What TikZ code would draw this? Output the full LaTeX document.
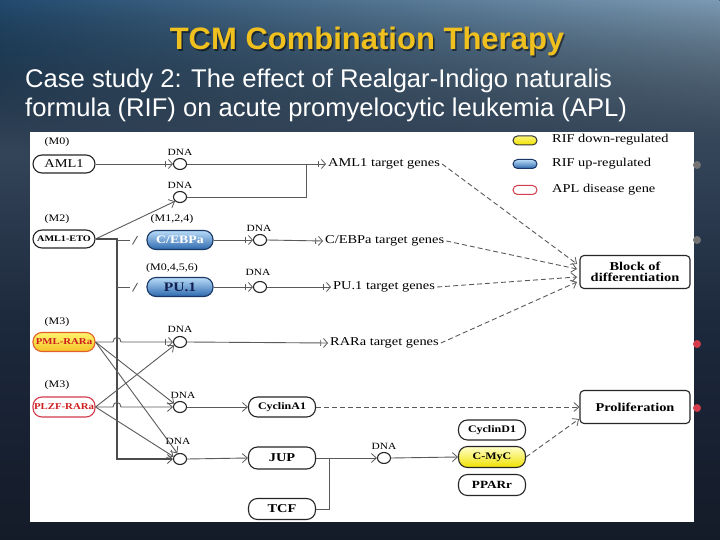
\documentclass[tikz,border=0pt]{standalone}
\usepackage{fontspec}
\setmainfont{Liberation Sans}
\newfontfamily\dfont[FakeStretch=1.2]{Liberation Serif}
\usetikzlibrary{arrows.meta,shapes.geometric,fadings}
\definecolor{bg0}{RGB}{10,10,14}
\definecolor{bg1}{RGB}{16,20,30}
\definecolor{bg2}{RGB}{28,40,60}
\definecolor{bg3}{RGB}{72,92,114}
\definecolor{bg4}{RGB}{88,116,140}
\definecolor{bg5}{RGB}{70,108,138}
\definecolor{bgTL}{RGB}{35,75,110}
\definecolor{bgTR}{RGB}{125,155,180}
\definecolor{ttl}{RGB}{240,192,30}
\definecolor{blueT}{RGB}{185,220,248}
\definecolor{blueB}{RGB}{45,105,175}
\definecolor{blueD}{RGB}{25,55,100}
\definecolor{navyT}{RGB}{16,32,80}
\definecolor{yelT}{RGB}{255,255,200}
\definecolor{yelB}{RGB}{240,225,0}
\definecolor{pmlT}{RGB}{255,245,110}
\definecolor{pmlB}{RGB}{245,195,40}
\definecolor{pmlD}{RGB}{225,95,40}
\definecolor{aplR}{RGB}{210,60,75}
\definecolor{txR}{RGB}{205,30,30}
\definecolor{lnG}{RGB}{90,90,90}
\tikzfading[name=fadedown, top color=transparent!0, bottom color=transparent!100]
\pgfdeclareverticalshading{slidebg}{100bp}{color(0bp)=(bg0); color(15bp)=(bg1); color(45bp)=(bg2); color(75bp)=(bg3); color(88bp)=(bg4); color(100bp)=(bg5)}
\newcommand{\fsz}[1]{\fontsize{#1}{#1}\selectfont}
\begin{document}
\begin{tikzpicture}[x=1pt,y=-1pt,
  pill/.style={draw=black!85, line width=1.1pt, rounded corners=9pt, fill=white,
    minimum width=66pt, minimum height=20pt, inner sep=0pt, font=\dfont\bfseries\fsz{10}},
  bluepill/.style={top color=blueT, bottom color=blueB, draw=blueD},
  yelpill/.style={top color=yelT, bottom color=yelB, draw=black!85},
  pmlpill/.style={top color=pmlT, bottom color=pmlB, draw=pmlD, text=txR},
  aplpill/.style={fill=white, draw=aplR, text=txR},
  legpill/.style={line width=1pt, rounded corners=4.5pt, minimum width=24pt, minimum height=9pt, inner sep=0pt},
  outbox/.style={draw=black!85, line width=1.1pt, rounded corners=4pt, fill=white,
    minimum width=110pt, minimum height=33pt, inner sep=0pt, align=center, font=\dfont\bfseries\fsz{12}},
  dnac/.style={draw=black!85, line width=1.1pt, ellipse, fill=white, minimum width=13pt, minimum height=11pt, inner sep=0pt},
  lbl/.style={inner sep=0pt, font=\dfont\fsz{10}},
  dnal/.style={inner sep=0pt, font=\dfont\fsz{9.5}},
  tgt/.style={inner sep=2pt, anchor=west, font=\dfont\fsz{12}},
  conn/.style={draw=lnG, line width=0.9pt},
  oa/.style={-{Straight Barb[length=5pt,width=9pt,line width=0.8pt]}},
  ba/.style={-{Bar[width=6pt,line width=0.8pt,sep=2pt]Straight Barb[length=4pt,width=9pt,line width=0.8pt]}},
  dsh/.style={draw=lnG, line width=0.9pt, dash pattern=on 5pt off 3pt}
]
\useasboundingbox (0,0) rectangle (720,540);
% slide background
\shade[shading=slidebg] (0,0) rectangle (720,540);
\fill[left color=bgTL, right color=bgTR, path fading=fadedown] (0,0) rectangle (720,150);
% titles
\node[anchor=base, text=black, opacity=0.5, font=\bfseries\fsz{31}] at (368.5,51.5) {TCM Combination Therapy};
\node[anchor=base, text=ttl, font=\bfseries\fsz{31}] (title) at (367,50) {TCM Combination Therapy};
\node[anchor=base west, text=white, inner sep=0pt, font=\fsz{25.6}] (sub1) at (25,88) {Case study 2: The effect of Realgar-Indigo naturalis};
\node[anchor=base west, text=white, inner sep=0pt, font=\fsz{25.6}] (sub2) at (25,117) {formula (RIF) on acute promyelocytic leukemia (APL)};
% white panel
\fill[white] (30,132) rectangle (694,522);
\fill[black!55] (697,165) circle (4);
\fill[black!55] (697,240) circle (4);
\fill[aplR] (697,344) circle (4);
\fill[aplR] (697,408) circle (4);
% legend
\node[legpill, top color=yelT!60!yelB, bottom color=yelB, draw=black!80] (ly) at (525,140.5) {};
\node[legpill, top color=blueT, bottom color=blueB, draw=blueD] (lb) at (525,164) {};
\node[legpill, fill=white, draw=aplR] (lr) at (525,190) {};
\node[lbl, anchor=west, font=\dfont\fsz{12}] (lyt) at (552,140) {RIF down-regulated};
\node[lbl, anchor=west, font=\dfont\fsz{12}] (lbt) at (552,164) {RIF up-regulated};
\node[lbl, anchor=west, font=\dfont\fsz{12}] (lrt) at (552,190) {APL disease gene};
% left column
\node[lbl] (m0) at (57,142) {(M0)};
\node[pill, minimum width=62pt, minimum height=18pt, font=\dfont\fsz{12}] (aml1) at (64,164) {AML1};
\node[lbl] (m2) at (57,219) {(M2)};
\node[pill, minimum width=62pt, minimum height=18pt, font=\dfont\bfseries\fsz{8.5}] (eto) at (64,239) {AML1-ETO};
\node[lbl] (m3a) at (57,322) {(M3)};
\node[pill, pmlpill, minimum width=62pt, minimum height=19pt, font=\dfont\bfseries\fsz{9}] (pml) at (64,342) {PML-RARa};
\node[lbl] (m3b) at (57,385) {(M3)};
\node[pill, aplpill, minimum width=62pt, minimum height=20pt, font=\dfont\bfseries\fsz{9}] (plzf) at (64,407) {PLZF-RARa};
% blue nodes
\node[lbl] (m124) at (172,219) {(M1,2,4)};
\node[pill, bluepill, minimum width=66pt, minimum height=19pt, font=\dfont\bfseries\fsz{11.5}, text=white] (cebpa) at (180,240) {C/EBPa};
\node[lbl] (m0456) at (172,268) {(M0,4,5,6)};
\node[pill, bluepill, minimum width=66pt, minimum height=19pt, font=\dfont\bfseries\fsz{13}, text=navyT] (pu1) at (180,287) {PU.1};
% DNA sites
\node[dnac] (dna1) at (180,164) {};
\node[dnal] (dl1) at (180,152) {DNA};
\node[dnac] (dna2) at (180,197) {};
\node[dnal] (dl2) at (180,185) {DNA};
\node[dnac] (dna3) at (260,240) {};
\node[dnal] (dl3) at (259,228) {DNA};
\node[dnac] (dna4) at (260,287) {};
\node[dnal] (dl4) at (258,272) {DNA};
\node[dnac] (dna5) at (180,342) {};
\node[dnal] (dl5) at (180,329) {DNA};
\node[dnac] (dna6) at (180,407) {};
\node[dnal] (dl6) at (183,395) {DNA};
\node[dnac] (dna7) at (180,459) {};
\node[dnal] (dl7) at (178,441) {DNA};
\node[dnac] (dna8) at (384,458) {};
\node[dnal] (dl8) at (384,446) {DNA};
% target genes
\node[tgt] (tg1) at (326,164) {AML1 target genes};
\node[tgt] (tg2) at (323,241) {C/EBPa target genes};
\node[tgt] (tg3) at (331,287) {PU.1 target genes};
\node[tgt] (tg4) at (328,343) {RARa target genes};
% lower nodes
\node[pill, minimum width=67pt, minimum height=20pt] (cyca1) at (282,407) {CyclinA1};
\node[pill, minimum width=67pt, minimum height=22pt, font=\dfont\bfseries\fsz{12}] (jup) at (282,458) {JUP};
\node[pill, minimum width=67pt, minimum height=21pt, font=\dfont\bfseries\fsz{12}] (tcf) at (282,509) {TCF};
\node[pill, minimum width=67pt, minimum height=20pt] (cycd1) at (492,430) {CyclinD1};
\node[pill, yelpill, minimum width=67pt, minimum height=21pt] (cmyc) at (492,457) {C-MyC};
\node[pill, minimum width=67pt, minimum height=21pt, font=\dfont\bfseries\fsz{11}] (ppar) at (492,485) {PPARr};
\node[outbox] (block) at (635,272) {Block of\\[-1pt]differentiation};
\node[outbox] (prolif) at (635,407) {Proliferation};
% coordinates
\coordinate (j1) at (306,164);
\coordinate (j2) at (306,197);
\coordinate (t0) at (117,239);
\coordinate (t1) at (117,240);
\coordinate (t2) at (117,287);
\coordinate (tb) at (117,459);
\coordinate (s1) at (130,240);
\coordinate (s2) at (130,287);
\coordinate (jm) at (329,458);
\coordinate (jt) at (329,509);
\coordinate (bin1) at (577,264);
\coordinate (bin2) at (577,269);
\coordinate (bin3) at (577,277);
\coordinate (bin4) at (577,282);
\coordinate (pin2) at (579,419);
% top connectors
\draw[conn, ba] (aml1.east) -- (dna1.west);
\draw[conn, ba] (dna1.east) -- (tg1.west);
\draw[conn] (dna2.east) -- (j2) -- (j1);
\draw[conn, oa] (eto.east) -- (dna2.south west);
\draw[conn, line width=1.5pt, draw=black!70, oa] (eto.east) -- (t0) -- (tb) -- (dna7.west);
\draw[conn] (t1) -- (s1);
\draw[conn] (132.5,244.5) -- (137.5,236);
\draw[conn] (t2) -- (s2);
\draw[conn] (132.5,291.5) -- (137.5,283);
\draw[conn, ba] (cebpa.east) -- (dna3.west);
\draw[conn, ba] (dna3.east) -- (tg2.west);
\draw[conn, ba] (pu1.east) -- (dna4.west);
\draw[conn, ba] (dna4.east) -- (tg3.west);
% APL fusion connectors
\draw[conn, ba] (pml.east) -- (113,342) .. controls (113,336) and (121,336) .. (121,342) -- (dna5.west);
\draw[conn, ba] (dna5.east) -- (tg4.west);
\draw[conn, oa] (pml.east) -- (dna6.150);
\draw[conn, oa] (pml.east) -- (dna7.115);
\draw[conn, oa] (plzf.east) -- (dna5.210);
\draw[conn, oa] (plzf.east) -- (113,407) .. controls (113,401) and (121,401) .. (121,407) -- (dna6.west);
\draw[conn, oa] (plzf.east) -- (dna7.160);
% lower connectors
\draw[conn, oa] (dna6.east) -- (cyca1.west);
\draw[conn, oa] (dna7.east) -- (jup.west);
\draw[conn] (jup.east) -- (jm);
\draw[conn] (tcf.east) -- (jt) -- (jm);
\draw[conn, oa] (jm) -- (dna8.west);
\draw[conn, oa] (dna8.east) -- (cmyc.west);
\draw[dsh, oa] (cyca1.east) -- (prolif.west);
\draw[dsh, oa] (cmyc.east) -- (pin2);
% to block of differentiation
\draw[dsh, oa] (tg1.east) -- (bin1);
\draw[dsh, oa] (tg2.east) -- (bin2);
\draw[dsh, oa] (tg3.east) -- (bin3);
\draw[dsh, oa] (tg4.east) -- (bin4);
\end{tikzpicture}
\end{document}
